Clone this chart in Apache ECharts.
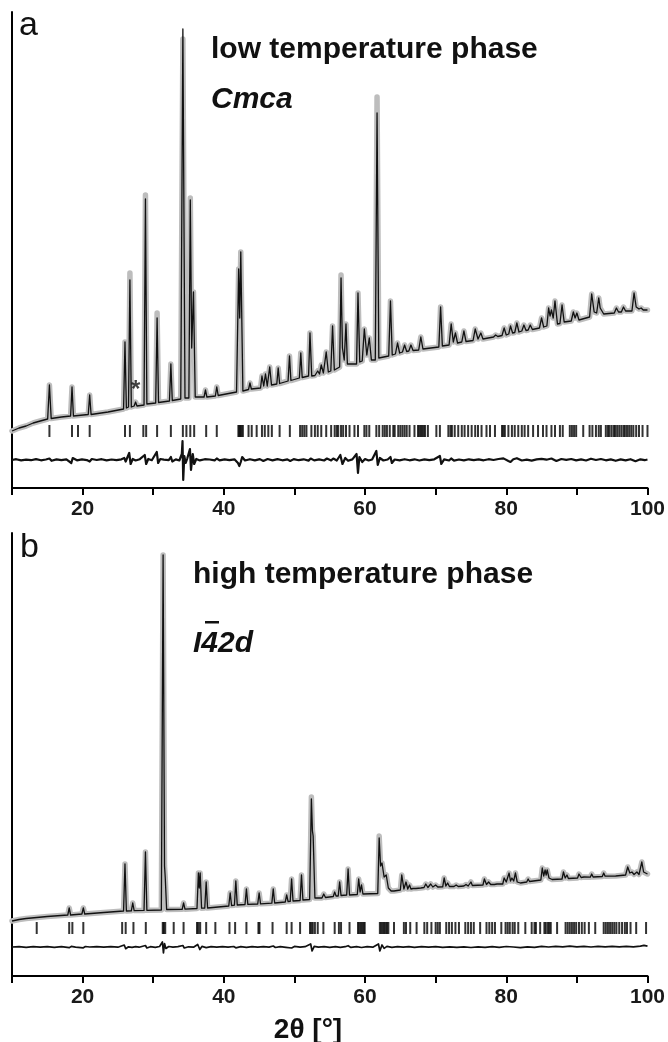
<!DOCTYPE html>
<html>
<head>
<meta charset="utf-8">
<script src="https://cdn.jsdelivr.net/npm/echarts@6/dist/echarts.min.js"></script>
<style>html,body{margin:0;padding:0;background:#fff}#c{width:668px;height:1042px}</style>
</head>
<body>
<div id="c"></div>
<script>
// ---------- Panel a: low temperature phase (Cmca) ----------
// calculated profile [2theta, intensity a.u.]
const calcA = [[10,57],[11,60],[12,62],[13,65],[14,67],[15.05,69],[15.3,103],[15.55,69.5],[17,71],[18.3,72],[18.5,101],[18.7,72],[20.8,73.5],[21.0,93],[21.2,73.5],[23.6,76],[25.8,79],[26.0,146],[26.2,80],[26.5,81],[26.7,208],[26.9,81],[27.3,82],[27.5,86],[27.7,82],[28.7,83],[28.9,289],[29.1,84],[30.35,85],[30.55,170],[30.75,85.5],[32.3,87],[32.5,124],[32.7,87.5],[33.9,89],[34.2,459],[34.5,90],[35.05,90],[35.25,288],[35.45,140],[35.7,196],[35.95,91],[37.2,91],[37.4,98],[37.6,91],[38.8,92],[39.0,101],[39.2,92.5],[41.8,96],[42.1,219],[42.25,170],[42.4,236],[42.7,97],[43.5,98.5],[43.7,105],[43.9,99],[45.2,100],[45.4,112],[45.65,102],[45.9,114],[46.15,102],[46.5,121],[46.75,103],[47.5,104],[47.7,120],[47.9,104.5],[49.1,107],[49.3,132],[49.5,107.5],[50.7,110],[50.9,135],[51.1,110.5],[52.0,112],[52.2,155],[52.45,112],[52.9,112.5],[53.3,117],[53.55,114],[53.8,123],[54.1,115],[54.5,136],[54.8,116],[55.15,117],[55.4,162],[55.65,118],[56.4,121],[56.6,210],[56.8,140],[57.05,128],[57.3,164],[57.5,124],[58.8,124],[59.0,195],[59.25,126],[59.6,127],[59.9,159],[60.25,133],[60.6,150],[60.9,128],[61.45,128],[61.7,375],[61.95,130],[63.35,132],[63.6,187],[63.85,133],[64.3,134],[64.6,145],[64.9,135],[65.3,136],[65.6,143],[65.9,136.5],[66.2,137],[66.5,143],[66.8,137.5],[67.6,138],[67.9,151],[68.2,139],[70.45,141],[70.7,181],[70.95,142],[71.9,143],[72.2,164],[72.5,146],[72.8,155],[73.1,145],[73.7,146],[74.0,157],[74.3,146.5],[75.3,147.5],[75.6,159],[76.0,149],[76.4,155],[76.7,149],[78.2,151],[78.5,153],[78.8,151.5],[79.4,152.5],[79.7,160],[80.0,153],[80.35,154],[80.6,162],[80.9,155],[81.2,155.5],[81.5,165],[81.8,156],[82.2,157],[82.5,163],[82.8,157.5],[83.1,158],[83.4,163],[83.7,158.5],[84.7,160],[85.0,170],[85.3,161],[85.75,162],[86.0,180],[86.2,172],[86.4,178],[86.65,170],[86.9,187],[87.25,164],[87.6,164.5],[87.9,183],[88.2,166],[89.2,167],[89.5,176],[89.75,170],[90.0,175],[90.3,168],[91.8,171],[92.1,194],[92.45,176],[92.8,175],[93.1,190],[93.3,180],[93.5,181],[93.8,174],[95.3,175],[95.6,180],[95.9,176],[96.3,176],[96.6,181],[96.9,177],[97.8,177],[98.1,195],[98.4,181],[98.8,179],[99.1,180],[99.4,178],[100,178]];
// observed peak tops that differ from the calculated ones
const obsTipsA = [[26.7,215],[28.9,293],[30.55,175],[34.2,449],[35.25,290],[56.6,213],[61.7,391]];
// difference curve (obs - calc, offset)
const diffA = [[10,28],[10.6,28.8],[11.3,27.6],[12,28.4],[12.7,27.8],[13.4,28.9],[14.1,27.7],[14.8,28.5],[15.3,29.5],[15.6,27.2],[16.3,28.6],[17,27.9],[17.7,28.7],[18.4,25],[18.6,30],[19.2,27.7],[19.9,28.6],[20.6,27.9],[21,26.5],[21.3,29],[22,28],[22.7,28.8],[23.4,27.6],[24.1,28.5],[24.8,27.9],[25.5,28.7],[25.9,30],[26.1,26.5],[26.6,35],[26.8,24],[27.1,29],[27.5,27.5],[28.1,28.8],[28.8,33],[29.0,24],[29.3,29],[29.8,27.8],[30.5,36],[30.7,25],[31,29],[31.5,28.3],[32.2,27.8],[32.5,31],[32.7,26.5],[33.2,28.6],[33.7,27.5],[34.05,34],[34.15,47],[34.25,8],[34.4,32],[34.6,25],[34.8,29],[35.2,39],[35.35,18],[35.6,34],[35.8,24],[36.1,29],[36.6,27.6],[37.3,28.8],[37.5,26.8],[38,28.5],[38.7,27.7],[39,29.5],[39.4,27.6],[40.1,28.6],[40.8,27.8],[41.5,28.7],[42.0,25],[42.2,22],[42.4,26],[42.6,31],[43,27.5],[43.7,28.8],[44.4,27.6],[45.1,28.9],[45.6,27],[46.2,29],[46.9,27.6],[47.6,28.9],[48.3,27.7],[49,28.6],[49.4,27],[49.9,28.9],[50.6,27.8],[51.3,28.7],[52,27.4],[52.3,29.5],[52.8,27.6],[53.5,28.6],[54.2,27.5],[54.6,29.5],[55.2,27.6],[55.5,29.5],[56,27.5],[56.5,33],[56.8,24],[57.2,30],[57.6,27.2],[58.2,28.6],[58.8,34],[59.0,15],[59.2,31],[59.6,26],[60,29],[60.5,27.5],[61.0,28.5],[61.6,37],[61.8,23],[62.1,30],[62.6,27.5],[63.2,28.5],[63.6,31],[63.8,25],[64.2,28.5],[64.9,27.6],[65.6,28.8],[66.3,27.7],[67,28.7],[67.7,27.5],[68.4,28.6],[69.1,27.8],[69.8,28.7],[70.6,32],[70.8,24],[71.2,28.6],[71.9,27.5],[72.2,29.5],[72.6,27.4],[73.3,28.5],[74,27.6],[74.7,28.7],[75.4,27.8],[76.1,28.6],[76.8,27.7],[77.5,28.8],[78.2,28],[78.9,29],[79.6,29.6],[80.3,27],[80.6,26],[81,28.8],[81.5,29.8],[82.2,27.5],[82.9,28.4],[83.6,27.4],[84.3,28.6],[85,29.2],[85.7,28.3],[86.4,29.5],[87.1,27],[87.8,29],[88.5,28.2],[89.2,29],[89.9,27.6],[90.6,28.6],[91.3,27.5],[92,29.3],[92.7,28],[93.4,29],[94.1,27.7],[94.8,28.6],[95.5,27.2],[96.2,28.6],[96.9,27.6],[97.6,28.8],[98.3,26.8],[99,28.7],[99.6,27.8],[100,28.5]];
// reflection positions
const ticksA = [15.3,18.5,19.35,21.0,26.0,26.7,28.6,29.0,30.55,32.5,34.2,34.7,35.25,35.8,37.5,39.0,42.06,42.2,42.35,42.5,42.7,43.5,43.95,44.65,45.4,45.8,46.3,46.8,47.9,49.35,50.8,51.1,51.4,51.7,52.4,52.9,53.3,53.8,54.5,55.2,55.7,56.0,56.2,56.6,56.9,57.3,57.8,58.5,59.0,59.9,60.2,60.6,61.6,62.0,62.5,62.8,63.1,63.5,64.0,64.2,64.7,65.0,65.3,65.6,65.9,66.3,67.0,67.5,67.7,67.9,68.1,68.3,68.5,68.9,70.1,70.6,71.8,72.1,72.3,72.7,73.2,73.7,74.1,74.6,75.1,75.6,76.0,76.5,77.2,77.7,78.4,79.4,79.6,79.8,80.3,80.8,81.2,81.7,82.2,82.6,83.1,83.8,84.5,85.2,85.7,86.4,86.9,87.6,88.0,89.0,89.3,89.6,89.9,90.9,91.8,92.2,92.7,93.1,93.4,94.1,94.4,94.6,94.9,95.2,95.4,95.7,96.0,96.3,96.6,96.8,97.1,97.4,97.7,98.0,98.4,98.8,99.3,100.0];

// ---------- Panel b: high temperature phase (I-42d) ----------
const calcB = [[10,55],[11,56.5],[12,57.5],[13.5,58.5],[15,59.5],[17.9,61],[18.1,68],[18.3,61],[19.9,62],[20.1,68],[20.3,62],[23,63.5],[25.8,65],[26.0,112],[26.2,65],[26.9,65.2],[27.1,73],[27.3,65.4],[28.7,65.6],[28.9,124],[29.1,65.7],[31.15,66],[31.4,421],[31.6,110],[31.7,99],[31.9,66.5],[34.1,66.7],[34.3,73],[34.5,66.8],[36.2,67.5],[36.4,103],[36.52,88],[36.65,103],[36.85,67.8],[37.3,68],[37.5,94],[37.7,68],[40.7,70],[40.9,83],[41.1,70.5],[41.5,70.8],[41.7,95],[41.9,71],[43.0,71.5],[43.2,87],[43.4,71.6],[44.8,72],[45.0,83],[45.2,72.2],[46.8,72.8],[47.0,87],[47.2,73],[48.7,74],[48.9,81],[49.1,74.5],[49.4,74.6],[49.6,97],[49.8,75],[50.8,75.5],[51.0,101],[51.2,76],[52.15,76.5],[52.4,177],[52.55,145],[52.65,140],[52.9,78],[53.9,78],[54.15,82],[54.4,78.5],[55.5,79.5],[55.7,84],[55.9,80],[56.2,80],[56.4,94],[56.6,80.5],[57.4,81],[57.6,107],[57.8,81],[58.9,81.5],[59.1,97],[59.3,84],[59.5,91],[59.7,82],[61.8,82.5],[62.0,138],[62.2,110],[62.4,113],[62.7,99],[63.0,101],[63.3,88],[63.7,85],[63.9,87],[64.1,85],[65.0,86],[65.2,101],[65.5,87],[65.8,94],[66.05,87],[66.3,91],[66.5,87],[66.8,87.5],[67.0,88],[67.2,87.5],[67.9,88],[68.1,90],[68.35,88.5],[68.6,92],[68.9,88.5],[69.3,92],[69.6,89],[70.0,91],[70.3,89],[71.0,89.2],[71.2,98],[71.45,90],[71.7,93],[71.95,89.5],[72.6,89.5],[72.9,91],[73.2,89.5],[74.0,90],[74.3,91.5],[74.6,90],[74.8,90.5],[75.0,94],[75.2,90.5],[76.7,91],[76.9,97],[77.2,91.5],[77.5,94],[77.8,91.5],[78.3,91.5],[78.5,93],[78.7,92],[79.5,92],[79.7,98],[80.0,94],[80.4,103],[80.6,95],[80.8,98],[81.05,95],[81.3,103],[81.55,94],[81.8,96],[82.0,93],[82.9,94],[83.1,97],[83.3,94.5],[84.9,96],[85.1,108],[85.3,100],[85.5,106],[85.65,101],[85.8,106],[86.05,98],[86.3,100],[86.5,96.5],[87.9,97],[88.1,104],[88.35,98],[88.6,101],[88.8,97.5],[90.1,98],[90.3,102],[90.6,98.5],[91.0,99],[91.2,98.5],[91.9,98.8],[92.1,102],[92.3,99],[93.6,99.5],[93.8,103],[94.0,99.8],[95.5,100],[96.9,101],[97.2,109],[97.5,103],[97.8,104],[98.1,101.5],[98.5,104],[98.8,101.5],[99.0,102],[99.2,114],[99.45,104],[99.7,103],[100,102]];
const obsTipsB = [[52.4,179],[62.0,140]];
const diffB = [[10,29],[11,29.4],[12,28.7],[13,29.3],[14,28.8],[15,29.4],[16,28.7],[17,29.3],[18.1,28.3],[18.4,29.6],[19,28.9],[20.1,28.2],[20.4,29.5],[21,29],[22,29.4],[23,28.8],[24,29.3],[25,28.8],[25.9,31],[26.1,27.3],[26.5,29.2],[27,28.6],[27.5,29.3],[28,28.8],[28.9,30.5],[29.1,28],[29.6,29.3],[30.3,28.7],[30.9,29.5],[31.3,34],[31.45,23],[31.6,32.5],[31.8,27.5],[32.2,29.5],[32.8,28.8],[33.5,29.3],[34.2,30.5],[34.4,28],[35,29.2],[35.7,28.8],[36.3,31.5],[36.6,26.5],[36.9,29.6],[37.5,28.4],[38.2,29.3],[39,28.8],[39.8,29.4],[40.6,28.8],[41.4,29.5],[41.7,28.2],[42.4,29.3],[43.2,28.7],[44,29.4],[44.8,28.8],[45.6,29.3],[46.4,28.9],[47,30],[47.3,28.5],[48,29.3],[48.8,28.7],[49.6,28],[50,29.6],[50.8,28.8],[51.5,29.3],[52.3,32],[52.5,25],[52.8,29.6],[53.4,28.8],[54.2,29.3],[55,28.7],[55.8,29.4],[56.5,28.6],[57.2,29.3],[57.6,30.3],[58,28.6],[58.8,29.3],[59.5,28.5],[60.3,29.3],[61.1,28.8],[61.9,32],[62.1,25],[62.4,31],[62.7,27.6],[63.1,29.6],[63.8,28.7],[64.6,29.4],[65.4,28.8],[66.2,29.4],[67,28.7],[68,29.4],[69,28.8],[70,29.3],[71,28.7],[72,29.2],[73,28.6],[74,29.2],[75,28.5],[76,29.1],[77,28.6],[78,29.3],[79,28.7],[80,29.5],[81,29],[82,28.3],[83,29.2],[84,28.6],[85,29.6],[86,29],[87,29.7],[88,29.2],[89,29.8],[90,29.1],[91,29.6],[92,29],[93,29.6],[94,29.1],[95,29.7],[96,29.2],[97,29.7],[98,29.2],[99,29.8],[99.5,30.6],[100,29.8]];
const ticksB = [13.5,18.1,18.55,20.1,25.6,26.1,27.2,28.95,31.35,31.5,31.7,32.9,34.3,36.2,36.4,36.65,37.5,38.8,40.8,41.6,43.2,44.9,45.05,46.9,48.9,49.6,50.8,52.2,52.4,52.6,52.9,53.3,54.1,55.7,56.3,56.6,57.8,59.0,59.2,59.4,59.6,59.8,59.95,62.1,62.3,62.5,62.7,62.9,63.1,63.3,64.1,65.5,65.8,66.4,67.3,68.4,68.8,69.4,70.0,70.3,70.6,71.5,71.9,72.3,72.8,73.3,74.2,74.6,75.0,75.4,76.3,77.2,77.6,78.0,78.4,79.3,79.9,80.2,80.5,80.9,81.2,81.7,82.7,83.6,84.0,84.2,84.8,85.4,85.6,85.9,86.1,86.3,87.2,88.4,88.7,89.0,89.3,89.6,89.9,90.3,90.7,91.1,91.7,92.6,93.8,94.1,94.4,94.7,95.0,95.3,95.6,96.0,96.4,96.8,97.1,97.6,98.4,99.8];

const xTickValues = [20,40,60,80,100];
const starPoint = [27.5, 98];
const tickRowA = 57, tickRowB = 48;

function withTips(calc, tips) {
  const m = new Map(tips.map(t => [t[0], t[1]]));
  return calc.map(p => [p[0], m.has(p[0]) ? m.get(p[0]) : p[1]]);
}

const FONT = 'Liberation Sans, Arial, sans-serif';
const chart = echarts.init(document.getElementById('c'), null, {renderer: 'canvas'});

function xAxis(gi) {
  return {
    gridIndex: gi, type: 'value', min: 10, max: 100, interval: 10,
    axisLine: {lineStyle: {color: '#000', width: 2}},
    axisTick: {show: true, length: 7, lineStyle: {color: '#000', width: 2}},
    axisLabel: {
      formatter: v => xTickValues.includes(v) ? String(v) : '',
      fontSize: 21, fontWeight: 'bold', color: '#1a1a1a', margin: 11, fontFamily: FONT
    },
    splitLine: {show: false}
  };
}
function yAxis(gi, max) {
  return {
    gridIndex: gi, type: 'value', min: 0, max: max,
    axisLine: {show: true, lineStyle: {color: '#000', width: 2}},
    axisTick: {show: false}, axisLabel: {show: false}, splitLine: {show: false}
  };
}
function panelSeries(idx, calc, tips, diff, ticks, row, diffWidth) {
  return [
    {type: 'line', xAxisIndex: idx, yAxisIndex: idx, data: withTips(calc, tips), showSymbol: false,
     lineStyle: {color: '#bdbdbd', width: 5.5, cap: 'round', join: 'round'}, z: 1, silent: true},
    {type: 'line', xAxisIndex: idx, yAxisIndex: idx, data: calc, showSymbol: false,
     lineStyle: {color: '#111', width: 1.3, join: 'round'}, z: 3, silent: true},
    {type: 'line', xAxisIndex: idx, yAxisIndex: idx, data: diff, showSymbol: false,
     lineStyle: {color: '#111', width: diffWidth, join: 'round'}, z: 3, silent: true},
    {type: 'scatter', xAxisIndex: idx, yAxisIndex: idx, data: ticks.map(t => [t, row]),
     symbol: 'rect', symbolSize: [2, 12], itemStyle: {color: '#000'}, z: 3, silent: true}
  ];
}

const series = [
  ...panelSeries(0, calcA, obsTipsA, diffA, ticksA, tickRowA, 2.2),
  ...panelSeries(1, calcB, obsTipsB, diffB, ticksB, tickRowB, 1.7),
  {type: 'scatter', xAxisIndex: 0, yAxisIndex: 0, data: [starPoint], symbolSize: 0,
   label: {show: true, formatter: '*', position: 'inside', fontSize: 24, fontWeight: 'bold', color: '#111', fontFamily: FONT}, z: 4}
];

const textStyleBold = {fontFamily: FONT, fontWeight: 'bold', fontSize: 30, fill: '#111', verticalAlign: 'top'};
chart.setOption({
  animation: false,
  backgroundColor: '#fff',
  grid: [
    {left: 12, right: 20, top: 12, bottom: 554, containLabel: false},
    {left: 12, right: 20, top: 533, bottom: 66, containLabel: false}
  ],
  xAxis: [xAxis(0), xAxis(1)],
  yAxis: [yAxis(0, 476), yAxis(1, 443)],
  series: series,
  graphic: [
    {type: 'text', x: 19, y: 9, style: {text: 'a', fontFamily: FONT, fontSize: 34, fill: '#111', verticalAlign: 'top'}},
    {type: 'text', x: 211, y: 35, style: Object.assign({text: 'low temperature phase'}, textStyleBold)},
    {type: 'text', x: 211, y: 85, style: Object.assign({text: 'Cmca', fontStyle: 'italic'}, textStyleBold)},
    {type: 'text', x: 20, y: 531, style: {text: 'b', fontFamily: FONT, fontSize: 34, fill: '#111', verticalAlign: 'top'}},
    {type: 'text', x: 193, y: 560, style: Object.assign({text: 'high temperature phase'}, textStyleBold)},
    {type: 'text', x: 193, y: 629, style: Object.assign({text: 'I42d', fontStyle: 'italic'}, textStyleBold)},
    {type: 'rect', shape: {x: 205, y: 621, width: 14, height: 2.5}, style: {fill: '#111'}},
    {type: 'text', x: 308, y: 1030, style: {text: '2θ [°]', fontFamily: FONT, fontWeight: 'bold', fontSize: 28, fill: '#111', align: 'center', verticalAlign: 'middle'}}
  ]
});
</script>
</body>
</html>
